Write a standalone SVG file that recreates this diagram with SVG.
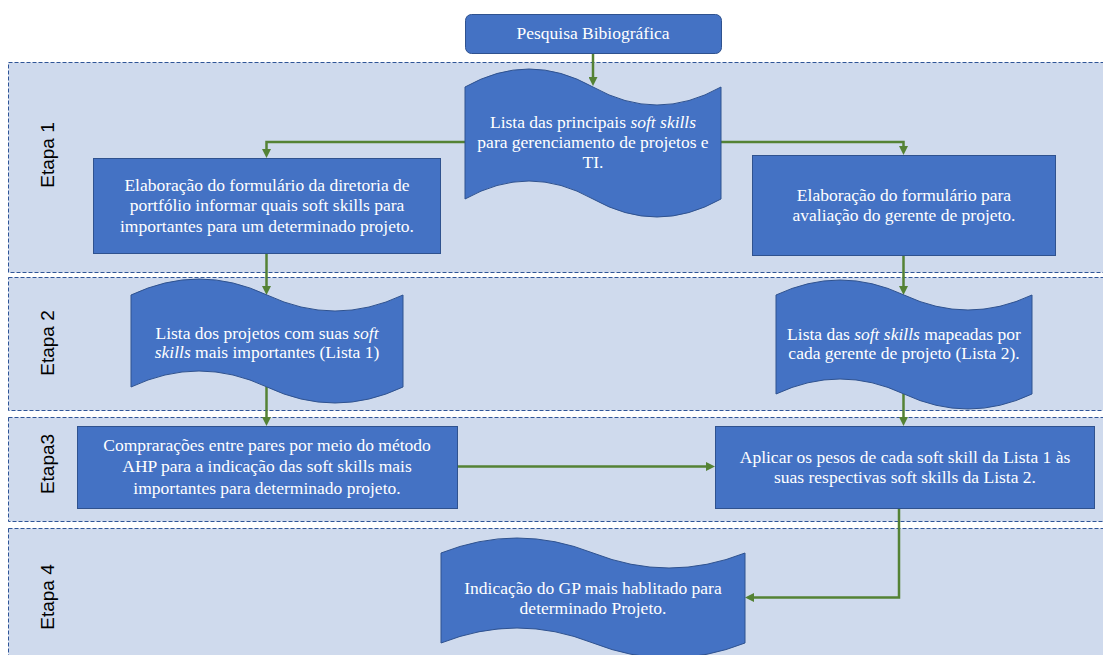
<svg xmlns="http://www.w3.org/2000/svg" width="1103" height="655" viewBox="0 0 1103 655">
  <style>
    .lane { fill: #CFDAED; stroke: #2F5597; stroke-width: 1; stroke-dasharray: 4 2; }
    .node { fill: #4472C4; stroke: #2F528F; stroke-width: 1; }
    .txt { font-family: 'Liberation Serif', 'Times New Roman', Tinos, 'DejaVu Serif', serif; font-size: 17.5px; fill: #FFFFFF; text-anchor: middle; }
    .lbl { font-family: 'Liberation Sans', Arial, sans-serif; font-size: 19px; fill: #000000; text-anchor: middle; }
    .conn { fill: none; stroke: #548235; stroke-width: 2.5; marker-end: url(#arrow); }
    .it { font-style: italic; }
  </style>
  <defs>
    <marker id="arrow" viewBox="0 0 9 9" markerWidth="9" markerHeight="9" refX="5" refY="4.5" orient="auto" markerUnits="userSpaceOnUse">
      <path d="M0,0 L9,4.5 L0,9 z" fill="#548235"/>
    </marker>
  </defs>

  <rect width="1103" height="655" fill="#FFFFFF"/>

  <!-- swimlanes -->
  <g id="lanes">
    <rect class="lane" x="8.5" y="62.5" width="1110" height="210"/>
    <rect class="lane" x="8.5" y="277.5" width="1110" height="133"/>
    <rect class="lane" x="8.5" y="417.5" width="1110" height="104"/>
    <rect class="lane" x="8.5" y="528.5" width="1110" height="140"/>
    <text class="lbl" transform="translate(54,155) rotate(-90)">Etapa 1</text>
    <text class="lbl" transform="translate(54,343) rotate(-90)">Etapa 2</text>
    <text class="lbl" transform="translate(54,464) rotate(-90)">Etapa3</text>
    <text class="lbl" transform="translate(54,597) rotate(-90)">Etapa 4</text>
  </g>

  <!-- connectors -->
  <g id="connectors">
    <path class="conn" d="M593,53 V82"/>
    <path class="conn" d="M465,142 H266.5 V154"/>
    <path class="conn" d="M721,142 H903.5 V151"/>
    <path class="conn" d="M266.5,253 V291"/>
    <path class="conn" d="M903.5,256 V291"/>
    <path class="conn" d="M266.5,387 V422"/>
    <path class="conn" d="M903.5,394 V422"/>
    <path class="conn" d="M457,466.5 H711"/>
    <path class="conn" d="M899,508 V597.5 H749"/>
  </g>

  <g id="pesquisa">
    <rect class="node" x="465.5" y="14.5" width="256" height="39" rx="6"/>
    <text class="txt" x="593" y="39">Pesquisa Bibiográfica</text>
  </g>

  <g id="lista-principais">
    <path class="node" d="M465,87 Q529,51 593,87 T721,87 V199 Q657,235 593,199 T465,199 Z"/>
    <text class="txt" x="593" y="127.5">Lista das principais <tspan class="it">soft skills</tspan></text>
    <text class="txt" x="593" y="147.5">para gerenciamento de projetos e</text>
    <text class="txt" x="593" y="167.5">TI.</text>
  </g>

  <g id="form-diretoria">
    <rect class="node" x="93.5" y="158.5" width="347" height="95"/>
    <text class="txt" x="267" y="190.5">Elaboração do formulário da diretoria de</text>
    <text class="txt" x="267" y="211">portfólio informar quais soft skills para</text>
    <text class="txt" x="267" y="231.5">importantes para um determinado projeto.</text>
  </g>

  <g id="form-gerente">
    <rect class="node" x="752.5" y="155.5" width="303" height="100"/>
    <text class="txt" x="904" y="200.5">Elaboração do formulário para</text>
    <text class="txt" x="904" y="220.5">avaliação do gerente de projeto.</text>
  </g>

  <g id="lista-1">
    <path class="node" d="M131,295 Q199,263 267,295 T403,295 V387 Q335,419 267,387 T131,387 Z"/>
    <text class="txt" x="267" y="338.5">Lista dos projetos com suas <tspan class="it">soft</tspan></text>
    <text class="txt" x="267" y="357.5"><tspan class="it">skills</tspan> mais importantes (Lista 1)</text>
  </g>

  <g id="lista-2">
    <path class="node" d="M776,295 Q840,265 904,295 T1032,295 V394 Q968,424 904,394 T776,394 Z"/>
    <text class="txt" x="904" y="339.5">Lista das <tspan class="it">soft skills</tspan> mapeadas por</text>
    <text class="txt" x="904" y="358.5">cada gerente de projeto (Lista 2).</text>
  </g>

  <g id="ahp">
    <rect class="node" x="77.5" y="426.5" width="380" height="82"/>
    <text class="txt" x="267" y="450.5">Comprarações entre pares por meio do método</text>
    <text class="txt" x="267" y="471.5">AHP para a indicação das soft skills mais</text>
    <text class="txt" x="267" y="493.5">importantes para determinado projeto.</text>
  </g>

  <g id="pesos">
    <rect class="node" x="715.5" y="426.5" width="379" height="82"/>
    <text class="txt" x="905" y="462.5">Aplicar os pesos de cada soft skill da Lista 1 às</text>
    <text class="txt" x="905" y="482.5">suas respectivas soft skills da Lista 2.</text>
  </g>

  <g id="indicacao-gp">
    <path class="node" d="M441,553 Q517,523 593,553 T745,553 V643 Q669,673 593,643 T441,643 Z"/>
    <text class="txt" x="593" y="593.5">Indicação do GP mais hablitado para</text>
    <text class="txt" x="593" y="613.5">determinado Projeto.</text>
  </g>
</svg>
